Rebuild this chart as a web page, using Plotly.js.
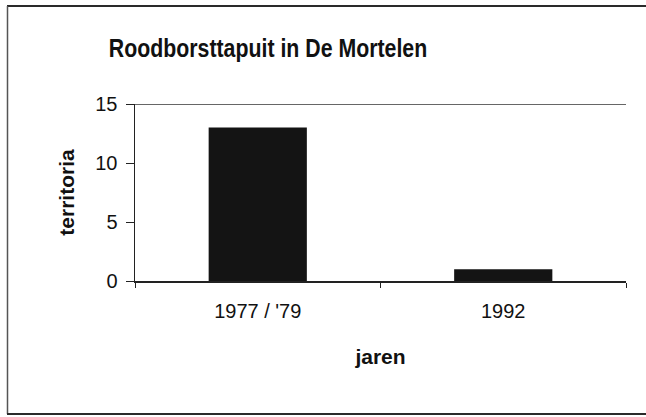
<!DOCTYPE html>
<html>
<head>
<meta charset="utf-8">
<script src="https://cdn.plot.ly/plotly-3.0.1.min.js"></script>
<style>
  html, body { margin: 0; padding: 0; background: #fff; overflow: hidden; }
  #chart { width: 646px; height: 417px; }
  .gtitle { transform-box: fill-box; transform-origin: center; transform: scaleX(0.82); }
</style>
</head>
<body>
<div id="chart"></div>
<script>
const categories = ["1977 / '79", "1992"];
const territoria = [13, 1];
const yTicks = [0, 5, 10, 15];

const trace = {
  type: 'bar',
  x: categories,
  y: territoria,
  width: 0.4,
  marker: { color: '#141414', line: { width: 0 } },
  hoverinfo: 'none'
};

// plot area in pixels: x 135..626, y 104..281
const W = 646, H = 417, L = 135, R = 20, T = 104, B = 136;
const pw = W - L - R, ph = H - T - B;
const px = v => (v - L) / pw;
const py = v => (H - B - v) / ph;

const layout = {
  width: W, height: H,
  paper_bgcolor: '#ffffff', plot_bgcolor: '#ffffff',
  margin: { l: L, r: R, t: T, b: B },
  showlegend: false,
  font: { family: 'Liberation Sans, Arial, sans-serif', color: '#111', size: 20 },
  title: {
    text: '<b>Roodborsttapuit in De Mortelen</b>',
    font: { family: 'Liberation Sans, Arial, sans-serif', size: 26, color: '#111' },
    xref: 'container', yref: 'container',
    x: 268 / W, xanchor: 'center',
    y: 1 - 48 / H, yanchor: 'middle'
  },
  xaxis: {
    type: 'category',
    tickson: 'boundaries',
    ticks: 'outside', ticklen: 5, tickwidth: 1, tickcolor: '#222',
    showline: true, linecolor: '#222', linewidth: 1.5,
    showgrid: false, zeroline: false,
    ticklabelstandoff: 11,
    tickfont: { size: 20, color: '#111' },
    title: { text: '<b>jaren</b>', font: { size: 21, color: '#111' }, standoff: 29 },
    automargin: false
  },
  yaxis: {
    range: [0, 15],
    tickvals: yTicks,
    ticktext: yTicks.map(String),
    ticks: 'outside', ticklen: 8, tickwidth: 1, tickcolor: '#222',
    showline: true, linecolor: '#222', linewidth: 1.5,
    showgrid: false, zeroline: false,
    ticklabelstandoff: 4,
    tickfont: { size: 20, color: '#111' },
    title: { text: '<b>territoria</b>', font: { size: 21, color: '#111' }, standoff: 15 },
    automargin: false
  },
  shapes: [
    { type: 'line', xref: 'paper', yref: 'y', x0: 0, x1: 1, y0: 15, y1: 15,
      line: { color: '#333', width: 1.5 } },
    // outer frame: top, left, bottom (no right edge in the scan)
    { type: 'line', xref: 'paper', yref: 'paper', x0: px(7), x1: px(660), y0: py(6), y1: py(6),
      line: { color: '#2a2a2a', width: 2 } },
    { type: 'line', xref: 'paper', yref: 'paper', x0: px(7.5), x1: px(7.5), y0: py(6), y1: py(414),
      line: { color: '#555', width: 1.5 } },
    { type: 'line', xref: 'paper', yref: 'paper', x0: px(7), x1: px(660), y0: py(414), y1: py(414),
      line: { color: '#2a2a2a', width: 2 } }
  ]
};

Plotly.newPlot('chart', [trace], layout, { staticPlot: true, displayModeBar: false });
</script>
</body>
</html>
